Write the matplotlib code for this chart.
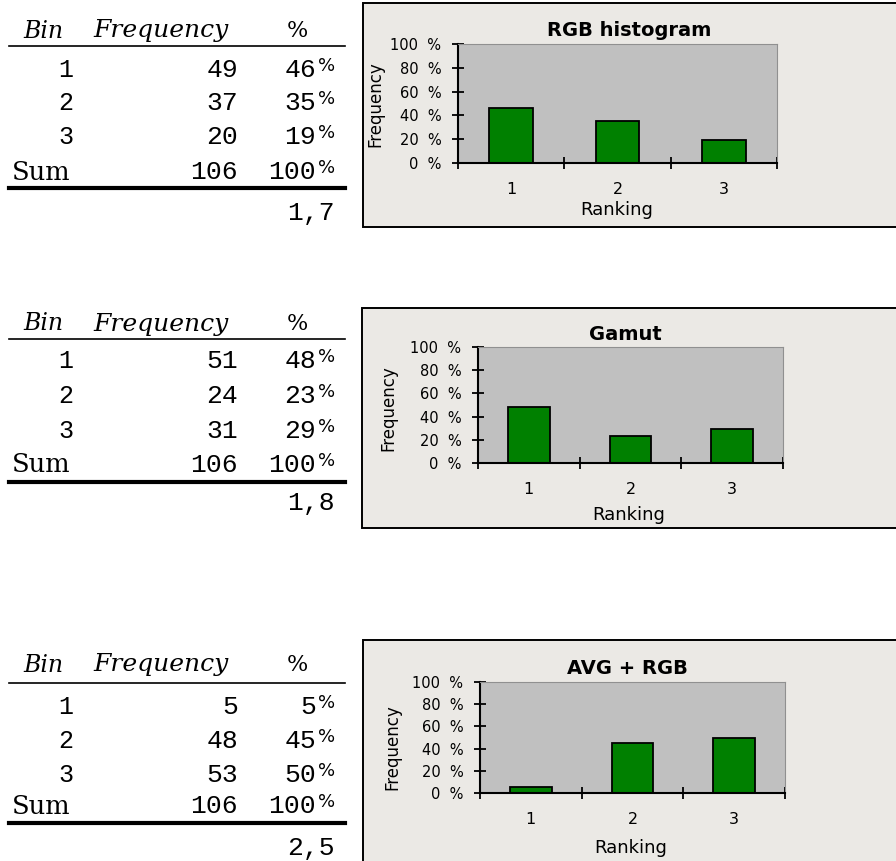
import matplotlib
matplotlib.use('Agg')
import matplotlib.pyplot as plt
from matplotlib.patches import Rectangle
from matplotlib.lines import Line2D

# data
bins = ['1', '2', '3']
titles = ['RGB histogram', 'Gamut', 'AVG + RGB']
freq_rgb = [49, 37, 20]
freq_gamut = [51, 24, 31]
freq_avg = [5, 48, 53]
pct_rgb = [46, 35, 19]
pct_gamut = [48, 23, 29]
pct_avg = [5, 45, 50]
totals = [106, 106, 106]
means = ['1,7', '1,8', '2,5']
yticks = [0, 20, 40, 60, 80, 100]

W, H = 896, 861
fig = plt.figure(figsize=(W / 100, H / 100), dpi=100)
fig.patch.set_facecolor('white')


def fx(x):
    return x / W


def fy(y):
    return 1 - y / H


def table(hy, uy, rows, ty, my, freq, pct, total, mean):
    # header
    fig.text(fx(43), fy(hy), 'Bin', family='DejaVu Serif', style='italic',
             fontsize=17, ha='center', va='center')
    fig.text(fx(93), fy(hy), 'Frequency', family='DejaVu Serif', style='italic',
             fontsize=18, ha='left', va='center')
    fig.text(fx(297), fy(hy), '%', family='DejaVu Serif', fontsize=16,
             ha='center', va='center')
    fig.add_artist(Line2D([fx(9), fx(345)], [fy(uy), fy(uy)], color='black', lw=1.2))
    for i in range(3):
        y = rows[i]
        fig.text(fx(73), fy(y), bins[i], family='Liberation Mono', fontsize=18,
                 ha='right', va='center')
        fig.text(fx(238), fy(y), str(freq[i]), family='Liberation Mono', fontsize=19,
                 ha='right', va='center')
        fig.text(fx(316), fy(y), str(pct[i]), family='Liberation Mono', fontsize=19,
                 ha='right', va='center')
        fig.text(fx(318), fy(y - 4), '%', family='DejaVu Sans', fontsize=13,
                 ha='left', va='center')
    y = rows[3]
    fig.text(fx(12), fy(y), 'Sum', family='DejaVu Serif', fontsize=18.5,
             ha='left', va='center')
    fig.text(fx(238), fy(y), str(total), family='Liberation Mono', fontsize=19,
             ha='right', va='center')
    fig.text(fx(316), fy(y), '100', family='Liberation Mono', fontsize=19,
             ha='right', va='center')
    fig.text(fx(318), fy(y - 4), '%', family='DejaVu Sans', fontsize=13,
             ha='left', va='center')
    fig.add_artist(Line2D([fx(9), fx(345)], [fy(ty), fy(ty)], color='black', lw=3))
    fig.text(fx(335), fy(my), mean, family='Liberation Mono', fontsize=19,
             ha='right', va='center')


def chart(frame, area, title, ty, pct, ylab, rank):
    x0, y0, x1, y1 = frame
    fig.add_artist(Rectangle((fx(x0), fy(y1)), fx(x1 - x0), (y1 - y0) / H,
                             facecolor='#ebe9e5', edgecolor='black', lw=1.4,
                             transform=fig.transFigure, zorder=-1))
    a0, b0, a1, b1 = area
    ax = fig.add_axes([fx(a0), fy(b1), fx(a1 - a0), (b1 - b0) / H])
    ax.set_zorder(2)
    ax.set_facecolor('#c0c0c0')
    ax.bar([1, 2, 3], pct, width=0.41, color='#008000', edgecolor='black', lw=1.3)
    ax.set_xlim(0.5, 3.5)
    ax.set_ylim(0, 100)
    ax.set_yticks(yticks)
    ax.set_yticklabels(['%d  %%' % v for v in yticks], family='DejaVu Sans',
                       fontsize=10.5)
    ax.set_xticks([0.5, 1.5, 2.5, 3.5])
    ax.set_xticklabels([])
    ax.set_xticks([1, 2, 3], minor=True)
    ax.set_xticklabels(bins, minor=True, family='DejaVu Sans', fontsize=11.5)
    ax.tick_params(axis='both', which='major', direction='inout', length=8,
                   width=1.3, color='black')
    ax.tick_params(axis='y', pad=8)
    ax.tick_params(axis='x', which='minor', length=0, pad=14)
    for s in ['top', 'right']:
        ax.spines[s].set_color('#909090')
        ax.spines[s].set_linewidth(0.8)
    for s in ['left', 'bottom']:
        ax.spines[s].set_color('black')
        ax.spines[s].set_linewidth(1.5)
    fig.text(fx(title[1]), fy(ty), title[0], family='DejaVu Sans',
             fontweight='bold', fontsize=14, ha='center', va='center')
    fig.text(fx(ylab[0]), fy(ylab[1]), 'Frequency', family='DejaVu Sans',
             fontsize=12, rotation=90, ha='center', va='center')
    fig.text(fx(rank[0]), fy(rank[1]), 'Ranking', family='DejaVu Sans',
             fontsize=13, ha='center', va='center')


table(31, 46, [70, 103, 137, 172], 188, 213, freq_rgb, pct_rgb, totals[0], means[0])
table(324, 339, [361, 396, 431, 465], 482, 503, freq_gamut, pct_gamut, totals[1], means[1])
table(665, 683, [707, 741, 775, 806], 823, 848, freq_avg, pct_avg, totals[2], means[2])

chart((363, 3, 897, 227), (458, 44, 777, 163), (titles[0], 629), 30,
      pct_rgb, (375, 104), (617, 210))
chart((362, 308, 897, 528), (478, 347, 783, 463), (titles[1], 625), 335,
      pct_gamut, (388, 408), (629, 515))
chart((363, 640, 897, 863), (480, 682, 785, 793), (titles[2], 627), 668,
      pct_avg, (392, 747), (631, 848))

fig.savefig('out.png', dpi=100, facecolor='white')
